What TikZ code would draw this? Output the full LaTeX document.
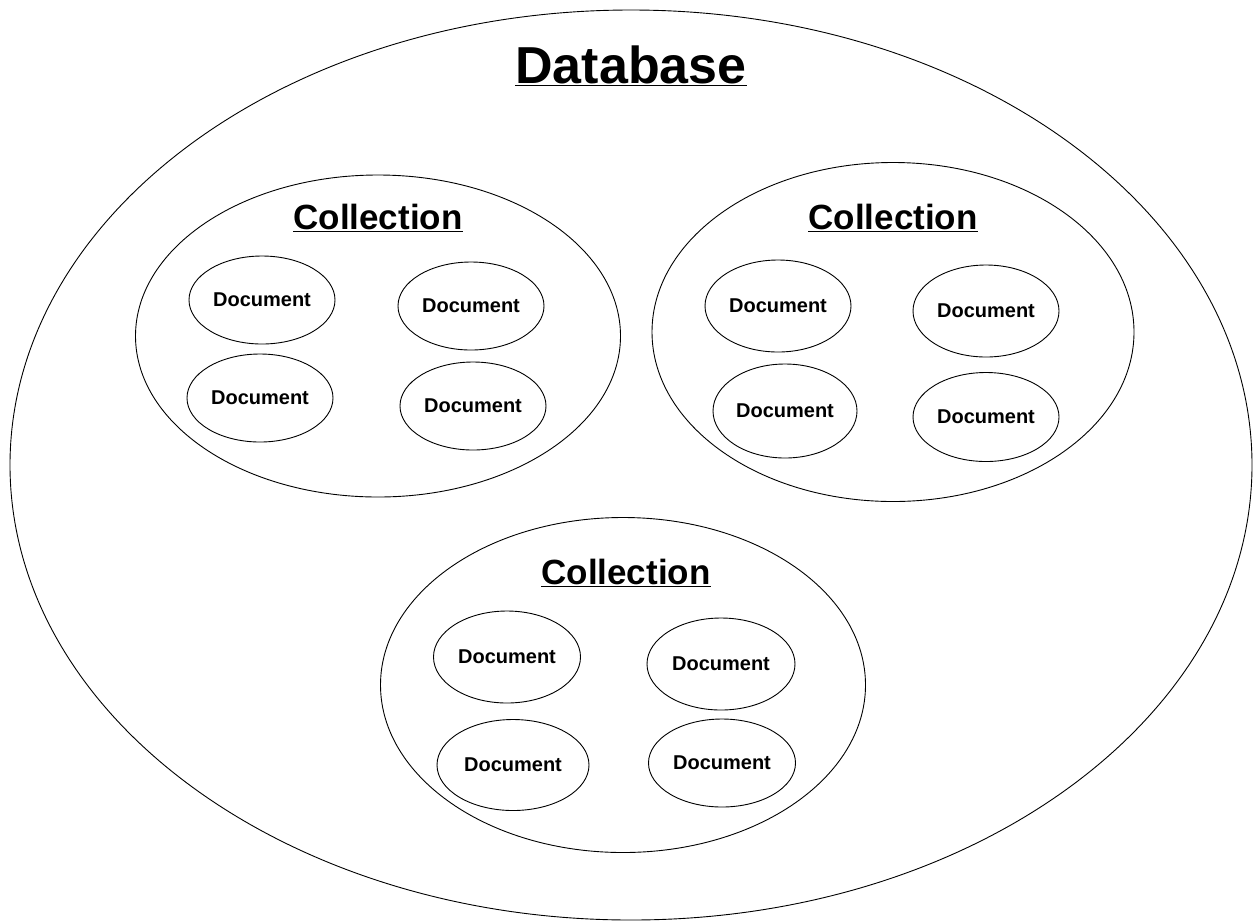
\documentclass[tikz,border=0pt]{standalone}
\usepackage{fontspec}
\setmainfont{Liberation Sans}
\usetikzlibrary{shapes.geometric}
\tikzset{
  dbshape/.style={draw, ellipse, line width=0.9pt, inner sep=0pt},
  docshape/.style={draw, ellipse, line width=0.9pt, inner sep=0pt, minimum width=146pt, minimum height=88pt, font=\fontsize{20}{24}\selectfont\bfseries},
  colltitle/.style={font=\fontsize{35}{40}\selectfont\bfseries, inner sep=0pt},
  dbtitle/.style={font=\fontsize{52}{60}\selectfont\bfseries, inner sep=0pt}
}
\begin{document}
\begin{tikzpicture}[x=1pt,y=-1pt]
\useasboundingbox[fill=white] (0,0) rectangle (1255,922);
% database
\node[dbshape, minimum width=1242pt, minimum height=910pt] (db) at (631,465) {};
\node[dbtitle] (dbt) at (631,66) {\underline{Database}};
% collection 1
\node[dbshape, minimum width=485pt, minimum height=322pt] (c1) at (378,336) {};
\node[colltitle] (c1t) at (378,218) {\underline{Collection}};
\node[docshape] (d11) at (262,300) {Document};
\node[docshape] (d12) at (471,306) {Document};
\node[docshape] (d13) at (260,398) {Document};
\node[docshape] (d14) at (473,406) {Document};
% collection 2
\node[dbshape, minimum width=482pt, minimum height=339pt] (c2) at (893,332) {};
\node[colltitle] (c2t) at (893,218) {\underline{Collection}};
\node[docshape, minimum height=92pt] (d21) at (778,306) {Document};
\node[docshape, minimum height=92pt] (d22) at (986,311) {Document};
\node[docshape, minimum width=144pt, minimum height=94pt] (d23) at (785,411) {Document};
\node[docshape, minimum height=89pt] (d24) at (986,417) {Document};
% collection 3
\node[dbshape, minimum width=485pt, minimum height=335pt] (c3) at (623,685) {};
\node[colltitle] (c3t) at (626,573) {\underline{Collection}};
\node[docshape, minimum width=147pt, minimum height=92pt] (d31) at (507,657) {Document};
\node[docshape, minimum width=148pt, minimum height=92pt] (d32) at (721,664) {Document};
\node[docshape, minimum width=152pt, minimum height=91pt] (d33) at (513,765) {Document};
\node[docshape, minimum width=147pt, minimum height=88pt] (d34) at (722,763) {Document};
\end{tikzpicture}
\end{document}
